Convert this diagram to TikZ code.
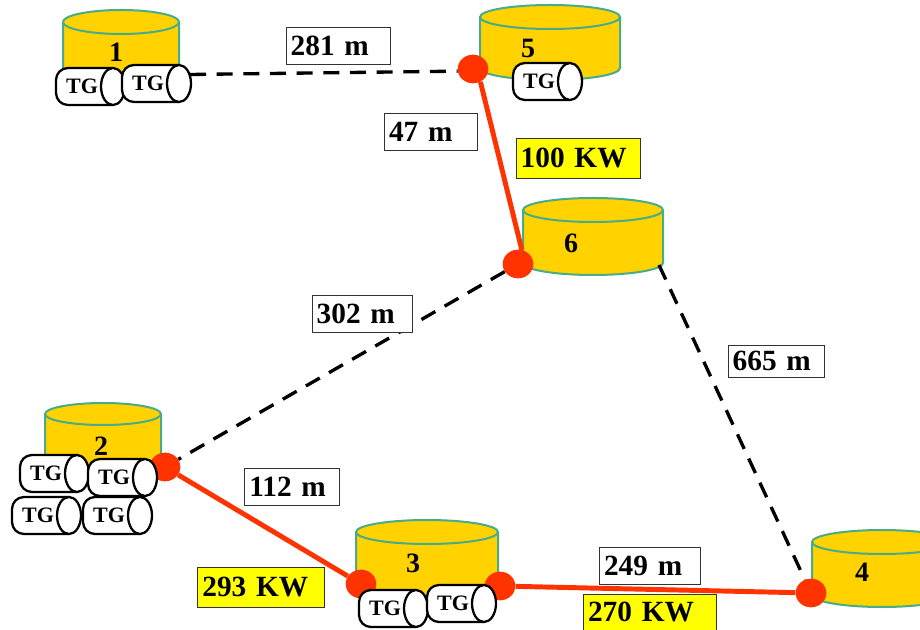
\documentclass[tikz,border=0pt]{standalone}
\usepackage{fontspec}
\setmainfont{Liberation Serif}
\usepackage{xcolor}
\usepackage{tikz}
\usetikzlibrary{shapes.geometric, arrows.meta, positioning, calc}
\definecolor{tankgold}{RGB}{255, 210, 0}
\definecolor{tankgreen}{RGB}{72, 172, 136}
\definecolor{busred}{RGB}{255, 51, 0}
\definecolor{powerbox}{RGB}{255, 255, 0}
\tikzset{
    numlabel/.style={font=\fontsize{21}{25}\selectfont\bfseries, inner sep=0pt},
    distbox/.style={draw=black!80, line width=0.7pt, fill=white, inner xsep=3.5pt, inner ysep=0pt, align=left,
        font=\fontsize{22}{26}\selectfont\bfseries, minimum height=#1},
    distbox/.default=28pt,
    powerlabel/.style={distbox=#1, fill=powerbox},
    powerlabel/.default=30pt,
    busdot/.style={ellipse, fill=busred, minimum width=23pt, minimum height=21.5pt, inner sep=0pt},
    dashline/.style={line width=2.5pt, dash pattern=on 12pt off 8pt},
    redline/.style={line width=3.7pt, busred},
    pics/tgunit/.style={code={
        \draw[line width=1.7pt, fill=white, rounded corners=9pt] (57,0) -- (0,0) -- (0,37) -- (57,37);
        \draw[line width=1.7pt, fill=white] (57,18.5) ellipse[x radius=9pt, y radius=13.9pt];
        \node[font=\fontsize{16.5}{20}\selectfont\bfseries, inner sep=0pt] (-lbl) at (26,18) {TG};
    }},
    pics/tankbody/.style args={#1/#2/#3}{code={
        \draw[line width=1.5pt, draw=tankgreen, fill=tankgold] (-#1,0) -- (-#1,#2)
            arc[start angle=180, end angle=360, x radius=#1*0.75pt, y radius=#3*0.75pt] -- (#1,0);
        \draw[line width=1.5pt, draw=tankgreen, fill=tankgold] (0,0) ellipse[x radius=#1*0.75pt, y radius=#3*0.75pt];
    }},
}
\begin{document}
\begin{tikzpicture}[x=0.75pt, y=-0.75pt]
    \useasboundingbox (0,0) rectangle (920,630);
    \clip (0,0) rectangle (920,630);

    % Tanks
    \pic at (121,22) {tankbody=58/46/12};
    \pic at (550,17) {tankbody=70/51/12};
    \pic at (593,210) {tankbody=70/53/12};
    \pic at (103,414) {tankbody=58/52/11};
    \pic at (427,532) {tankbody=71/55/12};
    \pic at (882,542) {tankbody=70/53/12};
    \node[numlabel] (num1) at (116,52) {1};
    \node[numlabel] (num2) at (101,446) {2};
    \node[numlabel] (num3) at (413,563) {3};
    \node[numlabel] (num4) at (862,572) {4};
    \node[numlabel] (num5) at (528,48) {5};
    \node[numlabel] (num6) at (571,243) {6};

    % Junctions
    \node[busdot] (dot5) at (473,69) {};
    \node[busdot] (dot6) at (518,264) {};
    \node[busdot] (dot2) at (165,467) {};
    \node[busdot] (dot3a) at (361,584) {};
    \node[busdot] (dot3b) at (500,586) {};
    \node[busdot] (dot4) at (811,593) {};

    % Free ends of the dashed lines
    \coordinate (end1) at (190,74.5);
    \coordinate (end6) at (659,265);

    % Dashed lines
    \draw[dashline] (end1) -- (dot5.188);
    \draw[dashline] (dot6) -- (dot2);
    \draw[dashline] (end6) -- (dot4);

    % Red lines
    \draw[redline] (dot5.-60) -- (dot6.75);
    \draw[redline] (dot2) -- (dot3a);
    \draw[redline] (dot3b) -- (dot4);

    % Turbine sets
    \foreach \n/\x/\y in {a/56/68, b/122/65, c/513/63, d/20/455, e/88/459, f/12/497, g/83/497, h/359/590, i/427/585}
        \pic (tg\n) at (\x,\y) {tgunit};

    % Distances
    \node[distbox, text width=78pt-7pt] (len1) at (338,46) {281 m};
    \node[distbox, text width=70pt-7pt] (len2) at (431,132) {47 m};
    \node[distbox, text width=75pt-7pt] (len3) at (362,314) {302 m};
    \node[distbox=24pt, text width=72pt-7pt] (len4) at (776,361) {665 m};
    \node[distbox, text width=71pt-7pt] (len5) at (292,487) {112 m};
    \node[distbox, text width=76pt-7pt] (len6) at (650,566) {249 m};

    % Power
    \node[powerlabel, text width=93pt-7pt] (pow1) at (578,158) {100 KW};
    \node[powerlabel, text width=95pt-7pt] (pow2) at (261,587) {293 KW};
    \node[powerlabel=27pt, text width=100pt-7pt] (pow3) at (650,612) {270 KW};
\end{tikzpicture}
\end{document}
